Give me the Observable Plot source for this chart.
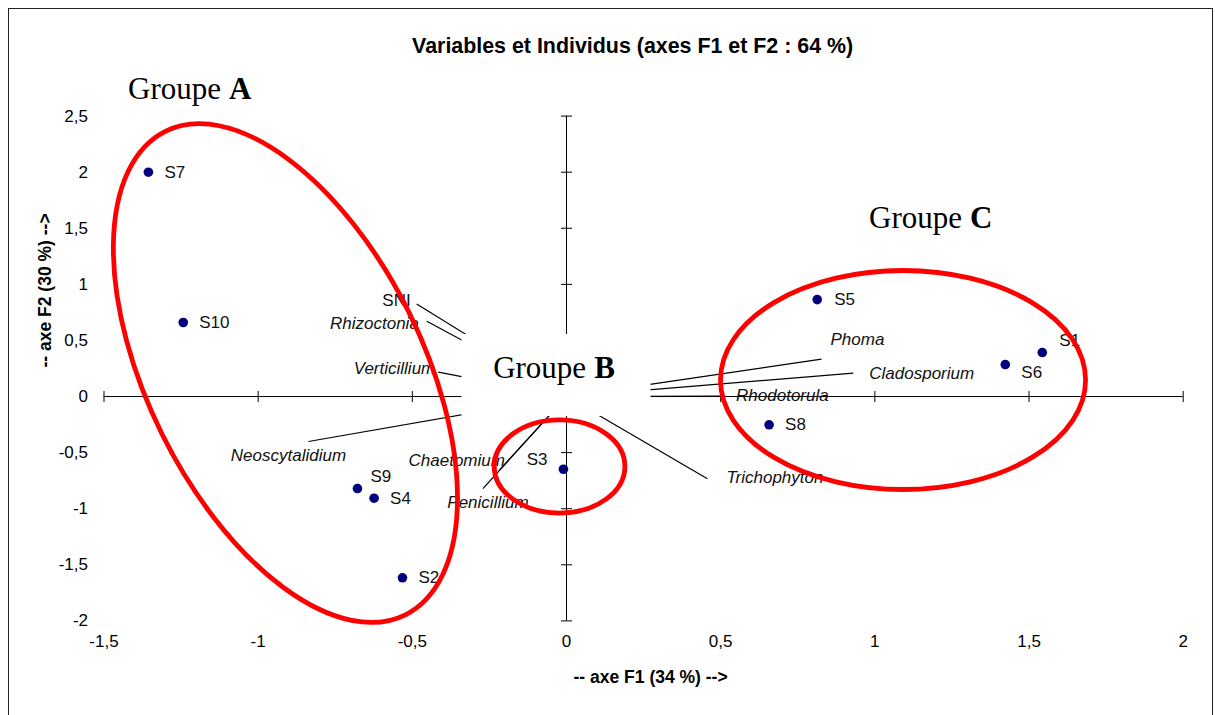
<!DOCTYPE html>
<html>
<head>
<meta charset="utf-8">
<script src="https://cdn.jsdelivr.net/npm/d3@7"></script>
<script src="https://cdn.jsdelivr.net/npm/@observablehq/plot@0.6"></script>
<style>
  html, body { margin: 0; padding: 0; background: #fff; }
  #wrap { position: relative; width: 1215px; height: 715px; overflow: hidden; }
  #border { position: absolute; left: 8px; top: 8px; width: 1203px; height: 720px;
            border-top: 1.5px solid #222; border-left: 1.5px solid #222; border-right: 1.5px solid #222;
            pointer-events: none; }
  #chart { position: absolute; left: 0; top: 0; }
</style>
</head>
<body>
<div id="wrap"><div id="chart"></div><div id="border"></div></div>
<script>
// ---- data ----
const samples  = ["S1", "S2", "S3", "S4", "S5", "S6", "S7", "S8", "S9", "S10"];
const sampleF1 = [1.543, -0.532, -0.010, -0.624, 0.813, 1.423, -1.356, 0.657, -0.678, -1.243];
const sampleF2 = [0.392, -1.616, -0.648, -0.906, 0.864, 0.285, 2.000, -0.252, -0.820, 0.660];

const variables = ["SNI", "Rhizoctonia", "Verticillium", "Neoscytalidium", "Chaetomium",
                   "Penicillium", "Trichophyton", "Phoma", "Cladosporium", "Rhodotorula"];
const varF1 = [-0.486, -0.453, -0.416, -0.837, -0.216, -0.271, 0.457, 0.827, 0.930, 0.498];
const varF2 = [0.826, 0.671, 0.217, -0.401, -0.651, -0.820, -0.733, 0.333, 0.208, 0.005];
const varItalic = [false, true, true, true, true, true, true, true, true, true];

const xTicks = [-1.5, -1, -0.5, 0, 0.5, 1, 1.5, 2];
const yTicks = [-2, -1.5, -1, -0.5, 0, 0.5, 1, 1.5, 2, 2.5];

const titleText = "Variables et Individus (axes F1 et F2 : 64 %)";
const xTitle = "-- axe F1 (34 %) -->";
const yTitle = "-- axe F2 (30 %) -->";

// group annotations (data units)
const groupNames   = ["A", "B", "C"];
const groupLabelF1 = [-1.422, -0.238, 0.981];
const groupLabelF2 = [2.741, 0.258, 1.595];
const ellipseF1   = [-0.910, -0.021, 1.093];
const ellipseF2   = [0.205, -0.628, 0.143];
const ellipseRx   = [0.4465, 0.212, 0.592];
const ellipseRy   = [2.406, 0.415, 0.976];
const ellipseTilt = [-26.4, 0, 0];
const maskF1 = [-0.339, 0.274];
const maskF2 = [-0.178, 0.553];

// ---- label layout (pixel offsets) ----
const sampleLabelLayout = {
  S1: [17, -12, "start"], S2: [16, 0, "start"], S3: [-16, -10, "end"], S4: [16, 0, "start"],
  S5: [17, 0, "start"], S6: [16, 8, "start"], S7: [16, 0, "start"], S8: [16, 0, "start"],
  S9: [13, -12, "start"], S10: [16, 0, "start"]
};
const varLabelLayout = {
  SNI: [-6, -3, "end"], Rhizoctonia: [-8, 2, "end"], Verticillium: [-3, -4, "end"],
  Neoscytalidium: [-20, 14, "middle"], Chaetomium: [5, -9, "end"], Penicillium: [5, 14, "middle"],
  Trichophyton: [19, -1, "start"], Phoma: [9, -20, "start"], Cladosporium: [16, 0, "start"],
  Rhodotorula: [16, 0, "start"]
};

const fmt = d => String(d).replace(".", ",");
const sans = "'Liberation Sans', Arial, sans-serif";
const serif = "'Liberation Serif', 'Times New Roman', serif";

const vTick = { draw(ctx, size) { const h = Math.sqrt(size / Math.PI); ctx.moveTo(0, -h); ctx.lineTo(0, h); } };
const hTick = { draw(ctx, size) { const h = Math.sqrt(size / Math.PI); ctx.moveTo(-h, 0); ctx.lineTo(h, 0); } };

function ellipses(index, scales) {
  const g = d3.create("svg:g");
  ellipseF1.forEach((cx, i) => {
    const px = scales.x(cx), py = scales.y(ellipseF2[i]);
    const rx = Math.abs(scales.x(ellipseRx[i]) - scales.x(0));
    const ry = Math.abs(scales.y(ellipseRy[i]) - scales.y(0));
    g.append("ellipse").attr("cx", px).attr("cy", py).attr("rx", rx).attr("ry", ry)
      .attr("transform", `rotate(${ellipseTilt[i]} ${px} ${py})`)
      .attr("fill", "none").attr("stroke", "#ff0000").attr("stroke-width", 4.8);
  });
  return g.node();
}

const sIdx = d3.range(samples.length);
const vIdx = d3.range(variables.length);
const gIdx = d3.range(groupNames.length);

const marks = [
  Plot.ruleY([0], {stroke: "#000", strokeWidth: 1}),
  Plot.ruleX([0], {stroke: "#000", strokeWidth: 1}),
  Plot.dot(xTicks, {x: d => d, y: 0, symbol: vTick, r: 5.5, stroke: "#000", fill: "none", strokeWidth: 1}),
  Plot.dot(yTicks, {x: 0, y: d => d, symbol: hTick, r: 5.5, stroke: "#000", fill: "none", strokeWidth: 1}),
  Plot.link(vIdx, {x1: 0, y1: 0, x2: i => varF1[i], y2: i => varF2[i], stroke: "#000", strokeWidth: 1.2}),
  ...vIdx.map(i => {
    const [dx, dy, anchor] = varLabelLayout[variables[i]];
    return Plot.text([i], {x: i => varF1[i], y: i => varF2[i], text: i => variables[i],
      dx, dy, textAnchor: anchor, fontStyle: varItalic[i] ? "italic" : "normal",
      fontSize: 17, fontFamily: sans, fill: "#111"});
  }),
  Plot.rect([0], {x1: maskF1[0], x2: maskF1[1], y1: maskF2[0], y2: maskF2[1], fill: "#fff"}),
  Plot.dot(sIdx, {x: i => sampleF1[i], y: i => sampleF2[i], r: 4.8, fill: "#00007f", stroke: "none"}),
  ...sIdx.map(i => {
    const [dx, dy, anchor] = sampleLabelLayout[samples[i]];
    return Plot.text([i], {x: i => sampleF1[i], y: i => sampleF2[i], text: i => samples[i],
      dx, dy, textAnchor: anchor, fontSize: 17, fontFamily: sans, fill: "#111"});
  }),
  Plot.text(gIdx, {x: i => groupLabelF1[i], y: i => groupLabelF2[i], text: () => "Groupe",
    textAnchor: "start", fontSize: 31, fontFamily: serif, fill: "#000"}),
  Plot.text(gIdx, {x: i => groupLabelF1[i], y: i => groupLabelF2[i], text: i => groupNames[i],
    textAnchor: "start", dx: 101, fontSize: 31, fontWeight: "bold", fontFamily: serif, fill: "#000"}),
  Plot.text([titleText], {frameAnchor: "top", lineAnchor: "middle", dy: -69.6, dx: -11,
    fontSize: 21.4, fontWeight: "bold", fontFamily: sans, fill: "#000"}),
  Plot.text([xTitle], {frameAnchor: "bottom", lineAnchor: "middle", dy: 56.6, dx: 7,
    fontSize: 17.5, fontWeight: "bold", fontFamily: sans, fill: "#000"}),
  Plot.text([yTitle], {frameAnchor: "left", lineAnchor: "middle", rotate: -90, dx: -58.5, dy: -1,
    fontSize: 17.5, fontWeight: "bold", fontFamily: sans, fill: "#000"}),
  ellipses
];

const chart = Plot.plot({
  width: 1215,
  height: 715,
  marginLeft: 103.5,
  marginRight: 32.3,
  marginTop: 115.6,
  marginBottom: 94.6,
  style: {fontFamily: sans, fontSize: "17px", background: "transparent", color: "#000", overflow: "visible"},
  x: {domain: [-1.5, 2], ticks: xTicks, tickFormat: fmt, tickSize: 0, tickPadding: 14, label: null},
  y: {domain: [-2, 2.5], ticks: yTicks, tickFormat: fmt, tickSize: 0, tickPadding: 16, label: null},
  marks
});
document.getElementById("chart").appendChild(chart);
</script>
</body>
</html>
